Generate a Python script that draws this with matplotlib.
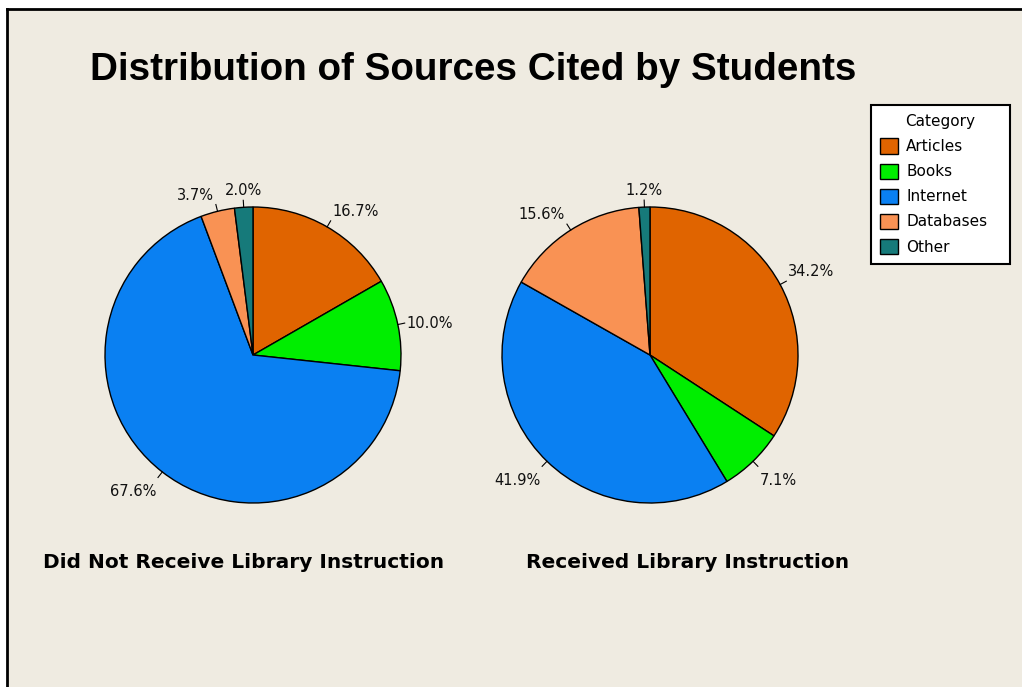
import numpy as np
import matplotlib
matplotlib.use('Agg')
import matplotlib.pyplot as plt
from matplotlib.patches import Patch, Rectangle

# source categories and their shares (%) for the two student groups
categories = ['Articles', 'Books', 'Internet', 'Databases', 'Other']
no_instruction = [16.7, 10.0, 67.6, 3.7, 2.0]
with_instruction = [34.2, 7.1, 41.9, 15.6, 1.2]
group_titles = ['Did Not Receive Library Instruction', 'Received Library Instruction']

colors = ['#E06400', '#00EE00', '#0A80F2', '#F99254', '#167A7A']
bg = '#EFEBE1'

W, H = 1022, 687
fig = plt.figure(figsize=(W / 100, H / 100), dpi=100)
fig.patch.set_facecolor('white')

# one axes in pixel units covering the whole figure
ax = fig.add_axes([0, 0, 1, 1])

# beige panel with a dark border on top and left
ax.add_patch(Rectangle((7, 0), W - 7, H - 9, facecolor=bg, edgecolor='none', zorder=0))
ax.plot([7, 7], [0, H - 9], color='black', lw=2, zorder=1)
ax.plot([7, W], [H - 9, H - 9], color='black', lw=2, zorder=1)

R = 148
centers = [(253, H - 355), (650, H - 355)]


def draw_pie(values, center):
    wedges, _ = ax.pie(values, colors=colors, startangle=90, counterclock=False,
                       center=center, radius=R,
                       wedgeprops=dict(edgecolor='black', linewidth=1))
    for w, v in zip(wedges, values):
        ang = np.deg2rad((w.theta1 + w.theta2) / 2)
        c, s = np.cos(ang), np.sin(ang)
        x0, y0 = center[0] + R * c, center[1] + R * s
        x1, y1 = center[0] + (R + 7) * c, center[1] + (R + 7) * s
        ax.plot([x0, x1], [y0, y1], color='black', lw=0.8)
        if c > 0.1:
            ha = 'left'
        elif c < -0.1:
            ha = 'right'
        else:
            ha = 'center'
        if s > 0.3:
            va = 'bottom'
        elif s < -0.3:
            va = 'top'
        else:
            va = 'center'
        tx = x1 + (2 if ha == 'left' else -2 if ha == 'right' else 0)
        ty = y1 + (2 if va == 'bottom' else -7 if va == 'top' else 0)
        ax.text(tx, ty, f'{v:.1f}%', ha=ha, va=va, fontsize=10.5, color='#111111')


draw_pie(no_instruction, centers[0])
draw_pie(with_instruction, centers[1])

ax.set_xlim(0, W)
ax.set_ylim(0, H)
ax.set_aspect('auto')
ax.axis('off')

# chart title
ax.text(90, H - 70, 'Distribution of Sources Cited by Students', ha='left', va='center',
        fontsize=27.8, fontweight='bold', family=['Liberation Sans', 'DejaVu Sans'])

# group labels under the pies
ax.text(43, H - 563, group_titles[0], ha='left', va='center', fontsize=14.5, fontweight='bold')
ax.text(526, H - 563, group_titles[1], ha='left', va='center', fontsize=14.5, fontweight='bold')

handles = [Patch(facecolor=col, edgecolor='black', label=cat) for col, cat in zip(colors, categories)]
leg = fig.legend(handles=handles, title='Category', loc='upper left', mode='expand',
                 bbox_to_anchor=(871 / W, 0, 139 / W, 1 - 105 / H), fontsize=11, title_fontsize=11,
                 frameon=True, fancybox=False, framealpha=1, edgecolor='black',
                 handlelength=1.15, handleheight=1.15, handletextpad=0.55,
                 labelspacing=0.61, borderpad=0.6, borderaxespad=0)
leg.get_frame().set_linewidth(1.5)

fig.savefig('out.png', dpi=100, facecolor=fig.get_facecolor())
